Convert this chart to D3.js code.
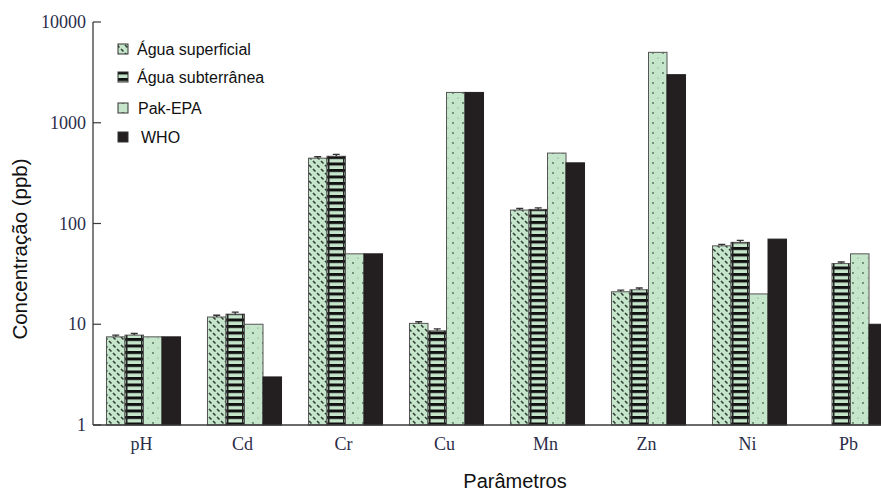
<!DOCTYPE html>
<html>
<head>
<meta charset="utf-8">
<script src="https://cdn.jsdelivr.net/npm/d3@7"></script>
<style>
  body { margin: 0; background: #fff; }
  svg { display: block; }
</style>
</head>
<body>
<div id="chart"></div>
<script>
// data
let categories = ["pH", "Cd", "Cr", "Cu", "Mn", "Zn", "Ni", "Pb"],
    seriesNames = ["Água superficial", "Água subterrânea", "Pak-EPA", "WHO"],
    superficial = [7.5, 11.8, 445, 10.2, 136, 21, 60, null],
    subterranea = [7.8, 12.6, 465, 8.6, 138, 22, 65, 40],
    pakEpa = [7.5, 10, 50, 2000, 500, 5000, 20, 50],
    who = [7.5, 3, 50, 2000, 400, 3000, 70, 10],
    errSuperficial = [0.3, 0.5, 15, 0.4, 5, 0.8, 2, null],
    errSubterranea = [0.3, 0.6, 20, 0.4, 5, 0.9, 3, 1.5],
    yTicks = [1, 10, 100, 1000, 10000];

let w = 881, h = 493,
    x0 = 93, yTop = 22, yBottom = 425,
    green = "#c6e6cc", dark = "#231f20";

let svg = d3.select("#chart").append("svg").attr("width", w).attr("height", h);
let defs = svg.append("defs");

// pattern: diagonal dashes (superficial)
let p1 = defs.append("pattern").attr("id", "pSup").attr("patternUnits", "userSpaceOnUse")
    .attr("width", 8).attr("height", 8);
p1.append("rect").attr("width", 8).attr("height", 8).attr("fill", green);
p1.append("path").attr("d", "M1,1 L3.5,3.5 M5,5 L7.5,7.5")
    .attr("stroke", "#2f3a31").attr("stroke-width", 1.5);

// pattern: horizontal stripes (subterranea)
let p2 = defs.append("pattern").attr("id", "pSub").attr("patternUnits", "userSpaceOnUse")
    .attr("width", 20).attr("height", 6.5);
p2.append("rect").attr("width", 20).attr("height", 6.5).attr("fill", green);
p2.append("rect").attr("y", 0).attr("width", 20).attr("height", 3).attr("fill", "#111");

// pattern: dots (Pak-EPA)
let p3 = defs.append("pattern").attr("id", "pPak").attr("patternUnits", "userSpaceOnUse")
    .attr("width", 10).attr("height", 10);
p3.append("rect").attr("width", 10).attr("height", 10).attr("fill", green);
p3.append("circle").attr("cx", 3).attr("cy", 3).attr("r", 0.9).attr("fill", "#4f6b55");
p3.append("circle").attr("cx", 8).attr("cy", 8).attr("r", 0.6).attr("fill", "#6f8a74");

let fills = ["url(#pSup)", "url(#pSub)", "url(#pPak)", dark];
let allSeries = [superficial, subterranea, pakEpa, who];
let allErr = [errSuperficial, errSubterranea, null, null];

let scaleX = d3.scaleBand().domain(categories).range([x0, x0 + 8 * 101])
    .paddingInner(0.267).paddingOuter(0.1335);
let scaleSub = d3.scaleBand().domain(d3.range(4)).range([0, scaleX.bandwidth()]);
let scaleY = d3.scaleLog().domain([1, 10000]).range([yBottom, yTop]);

// bars
let g = svg.append("g");
categories.forEach(function(cat, ci){
  allSeries.forEach(function(ser, si){
    let v = ser[ci];
    if(v == null) return;
    let bx = scaleX(cat) + scaleSub(si),
        bw = scaleSub.bandwidth();
    g.append("rect")
      .attr("x", bx).attr("y", scaleY(v))
      .attr("width", bw).attr("height", yBottom - scaleY(v))
      .attr("fill", fills[si])
      .attr("stroke", si === 3 ? dark : "#555")
      .attr("stroke-width", 1);
    if(si === 1){
      // dark side edges of the striped bars
      g.append("rect").attr("x", bx + 1).attr("y", scaleY(v))
        .attr("width", 1.5).attr("height", yBottom - scaleY(v)).attr("fill", "#222");
      g.append("rect").attr("x", bx + bw - 2.5).attr("y", scaleY(v))
        .attr("width", 1.5).attr("height", yBottom - scaleY(v)).attr("fill", "#222");
    }
    let errArr = allErr[si];
    if(errArr && errArr[ci] != null){
      let cx = bx + bw / 2, e = errArr[ci];
      g.append("path")
        .attr("d", "M" + cx + "," + scaleY(v) + " V" + scaleY(v + e) +
              " M" + (cx - 3.5) + "," + scaleY(v + e) + " H" + (cx + 3.5))
        .attr("stroke", "#333").attr("stroke-width", 1.4).attr("fill", "none");
    }
  });
});

// axes
let axisColor = "#3a3a3a", tickColor = "#2b2d4a";
svg.append("line").attr("x1", x0).attr("x2", x0).attr("y1", yTop).attr("y2", yBottom)
  .attr("stroke", axisColor).attr("stroke-width", 1.3);
svg.append("line").attr("x1", x0).attr("x2", w).attr("y1", yBottom).attr("y2", yBottom)
  .attr("stroke", axisColor).attr("stroke-width", 1.3);

yTicks.forEach(function(t){
  svg.append("line").attr("x1", x0).attr("x2", x0 + 8)
    .attr("y1", scaleY(t)).attr("y2", scaleY(t))
    .attr("stroke", axisColor).attr("stroke-width", 1.2);
  svg.append("text").attr("x", x0 - 7).attr("y", scaleY(t))
    .attr("dominant-baseline", "central").attr("text-anchor", "end")
    .style("font-family", "'Liberation Serif', 'Times New Roman', serif")
    .style("font-size", "18px").attr("fill", tickColor)
    .text(t);
});

categories.forEach(function(cat){
  svg.append("text").attr("x", scaleX(cat) + scaleX.bandwidth() / 2 - 2).attr("y", 450)
    .attr("text-anchor", "middle")
    .style("font-family", "'Liberation Serif', 'Times New Roman', serif")
    .style("font-size", "18px").attr("fill", tickColor)
    .text(cat);
});

// axis titles
svg.append("text").attr("x", 515).attr("y", 488).attr("text-anchor", "middle")
  .style("font-family", "'Liberation Sans', Arial, sans-serif").style("font-size", "20px")
  .attr("fill", "#111").text("Parâmetros");
svg.append("text").attr("transform", "translate(27,249) rotate(-90)").attr("text-anchor", "middle")
  .style("font-family", "'Liberation Sans', Arial, sans-serif").style("font-size", "20.5px")
  .attr("fill", "#111").text("Concentração (ppb)");

// legend
let legendY = [49, 77, 108, 137],
    legendTextX = [137, 137, 138, 141];
seriesNames.forEach(function(name, si){
  svg.append("rect").attr("x", 118).attr("y", legendY[si] - 5)
    .attr("width", 10).attr("height", 10)
    .attr("fill", fills[si]).attr("stroke", "#333").attr("stroke-width", 1);
  svg.append("text").attr("x", legendTextX[si]).attr("y", legendY[si])
    .attr("dominant-baseline", "central")
    .style("font-family", "'Liberation Sans', Arial, sans-serif").style("font-size", "16px")
    .attr("fill", "#111").text(name);
});
</script>
</body>
</html>
